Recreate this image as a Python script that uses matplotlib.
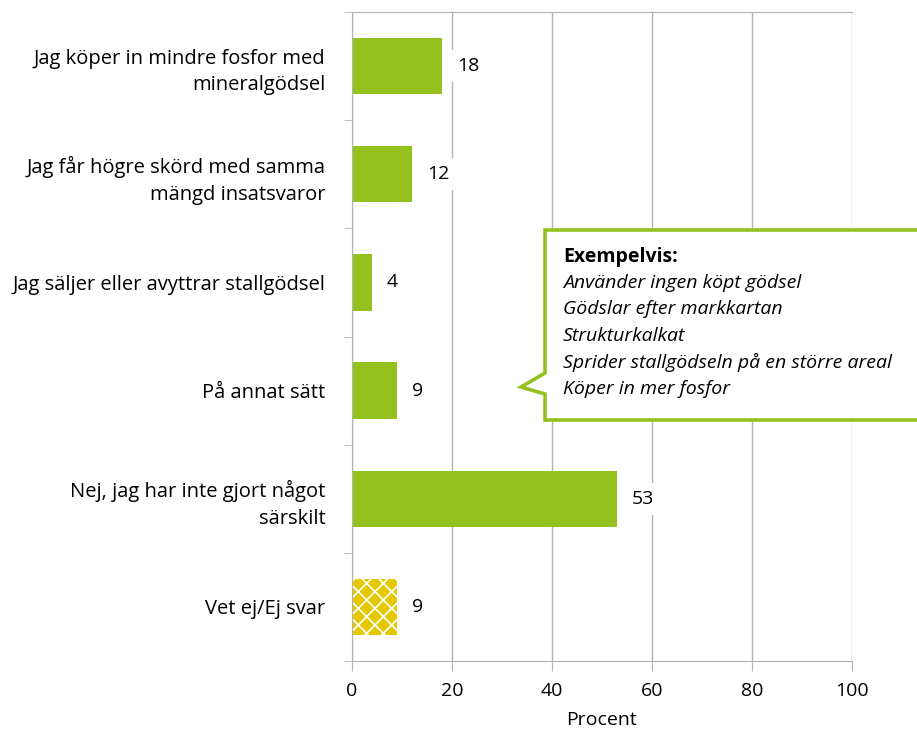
import numpy as np
import matplotlib.pyplot as plt
from matplotlib.patches import Polygon

plt.rcParams['font.family'] = ['Open Sans', 'DejaVu Sans']
plt.rcParams['hatch.color'] = 'white'
plt.rcParams['hatch.linewidth'] = 1.2

categories = ["Jag köper in mindre fosfor med\nmineralgödsel",
              "Jag får högre skörd med samma\nmängd insatsvaror",
              "Jag säljer eller avyttrar stallgödsel",
              "På annat sätt",
              "Nej, jag har inte gjort något\nsärskilt",
              "Vet ej/Ej svar"]
values = [18, 12, 4, 9, 53, 9]
callout_title = "Exempelvis:"
callout_lines = ["Använder ingen köpt gödsel",
                 "Gödslar efter markkartan",
                 "Strukturkalkat",
                 "Sprider stallgödseln på en större areal",
                 "Köper in mer fosfor"]

green = "#95C11F"
yellow = "#E5C800"
grid = "#B3B3B3"

W, H = 917, 735
fig = plt.figure(figsize=(W / 100, H / 100), dpi=100)
ax = fig.add_axes([352 / W, 1 - 661 / H, 500 / W, 649 / H])

y = np.arange(len(categories))
colors = [green] * 5 + [yellow]
bars = ax.barh(y, values, height=0.52, color=colors, zorder=2)
bars[-1].set_hatch('xx')
bars[-1].set_edgecolor('white')
bars[-1].set_linewidth(0)

for yi, v in zip(y, values):
    ax.annotate(str(v), (v, yi), xytext=(15, 0), textcoords='offset pixels',
                ha='left', va='center', fontsize=14, zorder=4,
                bbox=dict(boxstyle='square,pad=0.35', fc='white', ec='none'))

ax.set_xlim(0, 100)
ax.set_ylim(len(categories) - 0.5, -0.5)
ax.set_xticks(range(0, 101, 20))
ax.set_yticks(y)
ax.set_yticklabels(categories, fontsize=14.5, linespacing=1.45)
ax.set_yticks(np.arange(-0.5, len(categories), 1), minor=True)
ax.tick_params(axis='y', which='major', length=0, pad=19)
ax.tick_params(axis='y', which='minor', length=6, color=grid, direction='out')
ax.tick_params(axis='x', length=7, color=grid, labelsize=14, pad=8)
ax.grid(axis='x', color=grid, linewidth=1, zorder=0)
ax.set_axisbelow(True)
for s in ['left', 'bottom', 'top']:
    ax.spines[s].set_color(grid)
ax.spines['right'].set_visible(False)
ax.set_xlabel("Procent", fontsize=14, labelpad=8)

# callout box
pts = np.array([[545, 230], [922, 230], [922, 420], [545, 420],
                [545, 394], [521, 387], [545, 373]], dtype=float)
pts[:, 0] /= W
pts[:, 1] = 1 - pts[:, 1] / H
poly = Polygon(pts, closed=True, transform=fig.transFigure, fc='white',
               ec=green, lw=2.6, joinstyle='miter', zorder=5)
fig.add_artist(poly)
fig.text(563 / W, 1 - 257 / H, callout_title, fontsize=14, fontweight='bold',
         va='center', zorder=6)
for i, line in enumerate(callout_lines):
    fig.text(563 / W, 1 - (283 + i * 26.5) / H, line, fontsize=14,
             style='italic', va='center', zorder=6)

fig.savefig("out.png", dpi=100)
